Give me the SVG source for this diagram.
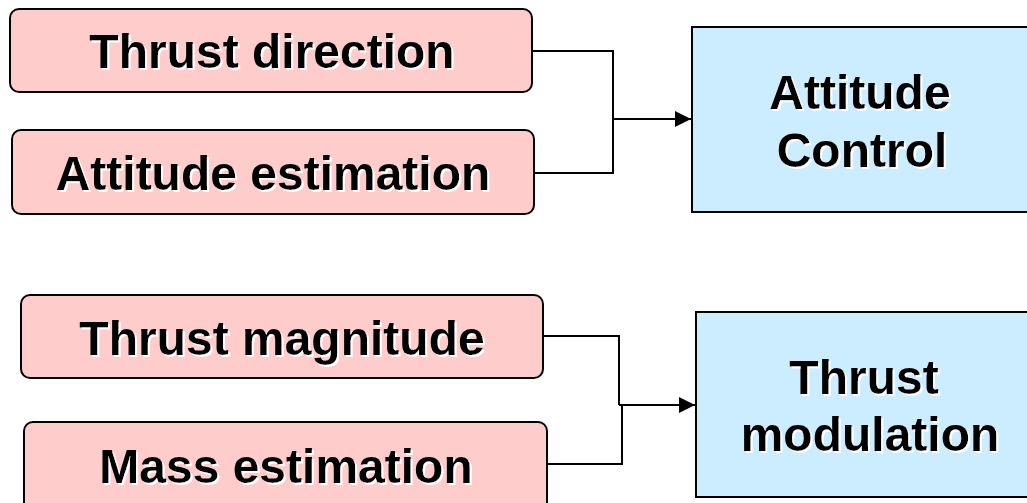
<svg xmlns="http://www.w3.org/2000/svg" width="1027" height="503" viewBox="0 0 1027 503">
<style>
.in{fill:#FFCCCC;stroke:#000;stroke-width:2}
.out{fill:#CCECFF;stroke:#000;stroke-width:2}
.t{font-family:"Liberation Sans",Arial,sans-serif;font-weight:bold;font-size:48px;fill:#000;text-anchor:middle;filter:url(#sh)}
.c{fill:none;stroke:#000;stroke-width:2}
</style>
<defs>
<filter id="sh" x="-5%" y="-10%" width="110%" height="130%">
<feDropShadow dx="2" dy="2" stdDeviation="0" flood-color="#fff" flood-opacity="1"/>
</filter>
<marker id="ah" viewBox="0 0 10 10" refX="10" refY="5" markerWidth="16" markerHeight="16" markerUnits="userSpaceOnUse" orient="auto">
<path d="M0,0 L10,5 L0,10 Z" fill="#000"/>
</marker>
</defs>
<rect width="1027" height="503" fill="#fff"/>
<g id="connectors">
<polyline class="c" points="532,51 613,51 613,173 534,173"/>
<line class="c" x1="613" y1="119" x2="691" y2="119" marker-end="url(#ah)"/>
<polyline class="c" points="543,336 619,336 619,405"/>
<polyline class="c" points="547,464 622,464 622,405 619,405"/>
<line class="c" x1="622" y1="405" x2="695" y2="405" marker-end="url(#ah)"/>
</g>
<g id="thrust-direction">
<rect class="in" x="10" y="9" width="522" height="83" rx="9"/>
<text class="t" x="272" y="68">Thrust direction</text>
</g>
<g id="attitude-estimation">
<rect class="in" x="12" y="130" width="522" height="84" rx="9"/>
<text class="t" x="273" y="190">Attitude estimation</text>
</g>
<g id="thrust-magnitude">
<rect class="in" x="21" y="295" width="522" height="83" rx="9"/>
<text class="t" x="282" y="355">Thrust magnitude</text>
</g>
<g id="mass-estimation">
<rect class="in" x="24" y="422" width="523" height="90" rx="9"/>
<text class="t" x="286" y="483">Mass estimation</text>
</g>
<g id="attitude-control">
<rect class="out" x="692" y="27" width="345" height="185"/>
<text class="t" x="860" y="109">Attitude</text>
<text class="t" x="862" y="167">Control</text>
</g>
<g id="thrust-modulation">
<rect class="out" x="696" y="312" width="345" height="185"/>
<text class="t" x="864" y="394">Thrust</text>
<text class="t" x="870" y="451">modulation</text>
</g>
</svg>
